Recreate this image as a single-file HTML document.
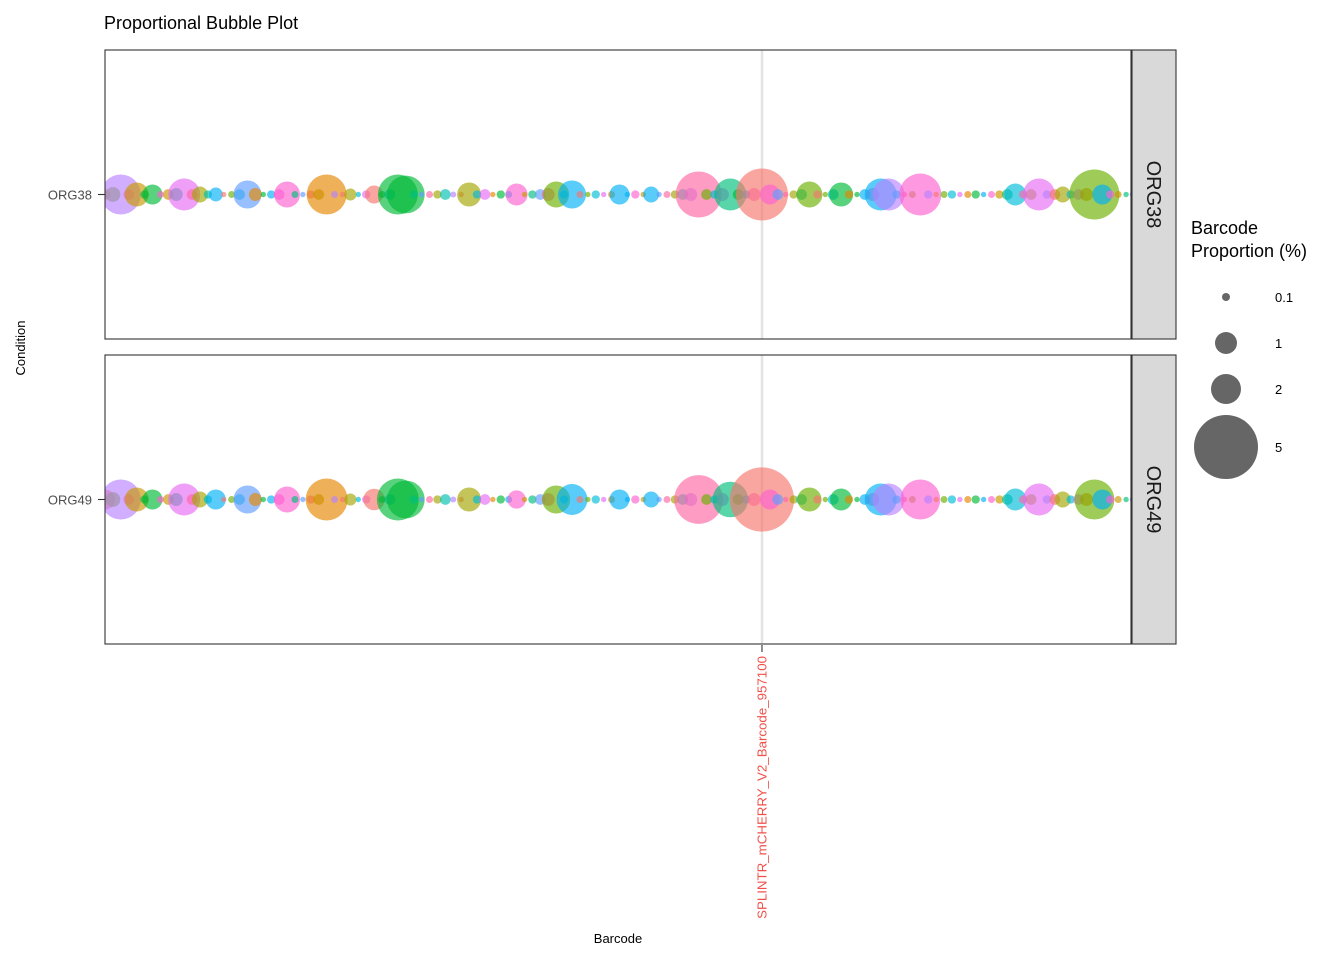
<!DOCTYPE html>
<html><head><meta charset="utf-8"><style>
body{margin:0;background:#fff;font-family:"Liberation Sans",Arial,sans-serif}
svg text{font-family:"Liberation Sans",Arial,sans-serif}
</style></head><body>
<svg id="chart" width="1344" height="960" xmlns="http://www.w3.org/2000/svg">
<rect width="1344" height="960" fill="#fff"/>
<text x="104" y="29" font-size="18" fill="#000">Proportional Bubble Plot</text>
<g id="panels"></g>
<text transform="translate(25,348) rotate(-90)" text-anchor="middle" font-size="13">Condition</text>
<text x="618" y="943" text-anchor="middle" font-size="13">Barcode</text>
<g id="legend">
<text x="1191" y="234" font-size="18">Barcode</text>
<text x="1191" y="257" font-size="18">Proportion (%)</text>
</g>
</svg>
<script>
const conditions=["ORG38","ORG49"];
const highlighted=83;
const tickLabel="SPLINTR_mCHERRY_V2_Barcode_957100";
const org38=[0.3,0.5,2.4,0.3,1.07,0.2,0.8,0.15,0.3,0.4,
1.69,0.3,0.56,0.2,0.45,0.1,0.15,0.3,1.37,0.4,
0.1,0.2,0.3,1.21,0.15,0.1,0.2,0.3,2.4,0.15,
0.1,0.36,0.1,0.2,0.68,0.15,0.3,2.4,2.2,0.2,
0.1,0.15,0.2,0.3,0.12,0.1,1.07,0.2,0.3,0.1,
0.2,0.15,0.93,0.1,0.2,0.3,0.4,1.21,0.2,1.37,
0.15,0.1,0.2,0.1,0.15,0.8,0.1,0.2,0.1,0.56,
0.1,0.15,0.2,0.3,0.4,3.0,0.3,0.2,0.4,1.69,
0.3,0.2,0.4,3.65,0.8,0.3,0.1,0.2,0.3,1.21,
0.2,0.1,0.3,1.07,0.2,0.1,0.3,0.4,1.69,1.69,
0.2,0.1,0.15,2.6,0.2,0.1,0.15,0.2,0.1,0.15,
0.2,0.1,0.15,0.2,0.3,0.93,0.2,0.3,1.69,0.2,
0.3,0.56,0.2,0.3,0.4,3.43,0.8,0.2,0.15,0.1,0.2];
const org49=[0.8,0.5,2.4,0.3,1.07,0.2,0.8,0.15,0.3,0.4,
1.69,0.3,0.56,0.2,0.8,0.1,0.15,0.3,1.37,0.4,
0.1,0.2,0.3,1.21,0.15,0.1,0.2,0.3,2.6,0.15,
0.1,0.36,0.1,0.2,0.9,0.15,0.3,2.6,2.2,0.2,
0.1,0.15,0.2,0.3,0.12,0.1,1.07,0.2,0.3,0.1,
0.2,0.15,0.7,0.1,0.2,0.3,0.4,1.37,0.2,1.6,
0.15,0.1,0.2,0.1,0.15,0.8,0.1,0.2,0.1,0.56,
0.1,0.15,0.2,0.3,0.4,3.3,0.3,0.2,0.4,2.0,
0.3,0.2,0.4,5.1,0.8,0.3,0.1,0.2,0.3,1.07,
0.2,0.1,0.3,0.93,0.2,0.1,0.3,0.4,1.69,1.69,
0.2,0.1,0.15,2.4,0.2,0.1,0.15,0.2,0.1,0.15,
0.2,0.1,0.15,0.2,0.3,0.93,0.2,0.3,1.69,0.2,
0.3,0.56,0.2,0.3,0.4,2.4,0.8,0.2,0.15,0.1,0.2];
const series=[org38,org49];
const palette=["#f8766d","#e58700","#c99800","#a3a500","#6bb100","#00ba38","#00bf7d","#00c0af","#00bcd8","#00b0f6","#619cff","#b983ff","#e76bf3","#fd61d1","#ff67a4"];
const colorOverride={2:11,4:2,6:5,10:12,12:3,14:9,18:10,23:13,28:1,31:3,34:0,37:5,38:5,46:3,52:13,57:4,59:9,65:9,69:9,75:14,79:6,83:0,84:13,89:4,93:5,98:9,99:11,103:13,115:8,118:12,121:3,125:4,126:9};
const N=org38.length;
const X0=105,X1=1134;
const xScale=i=>X0+i*(X1-X0)/(N-1);
const rScale=p=>11.5*Math.pow(p,0.63);
const panelTops=[50,355],PH=289;
const NS="http://www.w3.org/2000/svg";
function mk(t,a,parent){const e=document.createElementNS(NS,t);for(const k in a)e.setAttribute(k,a[k]);parent.appendChild(e);return e;}
const root=document.getElementById('panels');
series.forEach((vals,pi)=>{
  const top=panelTops[pi],cy=top+PH/2;
  const g=mk('g',{},root);
  
  
  mk('rect',{x:105,y:top,width:1026,height:PH,fill:'#fff'},g);
  const vl=mk('line',{x1:xScale(highlighted),x2:xScale(highlighted),y1:top,y2:top+PH,stroke:'#e3e3e3','stroke-width':2.5},g);
  
  
  const cp=mk('clipPath',{id:'clip'+pi},g);
  mk('rect',{x:105,y:top,width:1026,height:PH},cp);
  const cg=mk('g',{'clip-path':'url(#clip'+pi+')'},g);
  vals.forEach((v,i)=>{
    const ci=colorOverride[i]!==undefined?colorOverride[i]:(i*4)%15;
    const c=mk('circle',{cx:xScale(i),cy:cy,r:rScale(v),fill:palette[ci],'fill-opacity':0.65},cg);
    
    
  });
  mk('rect',{x:105,y:top,width:1026,height:PH,fill:'none',stroke:'#333','stroke-width':1.1},g);
  mk('line',{x1:98,x2:105,y1:cy,y2:cy,stroke:'#333','stroke-width':1.1},g);
  const yl=mk('text',{x:92,y:cy+5,'text-anchor':'end','font-size':13,fill:'#4d4d4d'},g);
  yl.textContent=conditions[pi];
  
  
  mk('rect',{x:1132,y:top,width:44,height:PH,fill:'#d9d9d9',stroke:'#333','stroke-width':1.1},g);
  const st=mk('text',{transform:'translate(1147,'+cy+') rotate(90)','text-anchor':'middle','font-size':20,fill:'#1a1a1a'},g);
  st.textContent=conditions[pi];
  
  
});
const xt=xScale(highlighted);
mk('line',{x1:xt,x2:xt,y1:645,y2:652,stroke:'#333','stroke-width':1.1},root);
const tl=mk('text',{transform:'translate('+(xt+4.5)+',656) rotate(-90)','text-anchor':'end','font-size':13.3,fill:'#f0504a'},root);
tl.textContent=tickLabel;


const legVals=[0.1,1,2,5],legY=[297,343,389,447],legR=[4,11,15,32];
const lg=document.getElementById('legend');
legVals.forEach((v,k)=>{
  const c=mk('circle',{cx:1226,cy:legY[k],r:legR[k],fill:'#666'},lg);
  
  
  const t=mk('text',{x:1275,y:legY[k]+5,'font-size':13,fill:'#000'},lg);
  t.textContent=String(v);
  
  
});
</script>
</body></html>
